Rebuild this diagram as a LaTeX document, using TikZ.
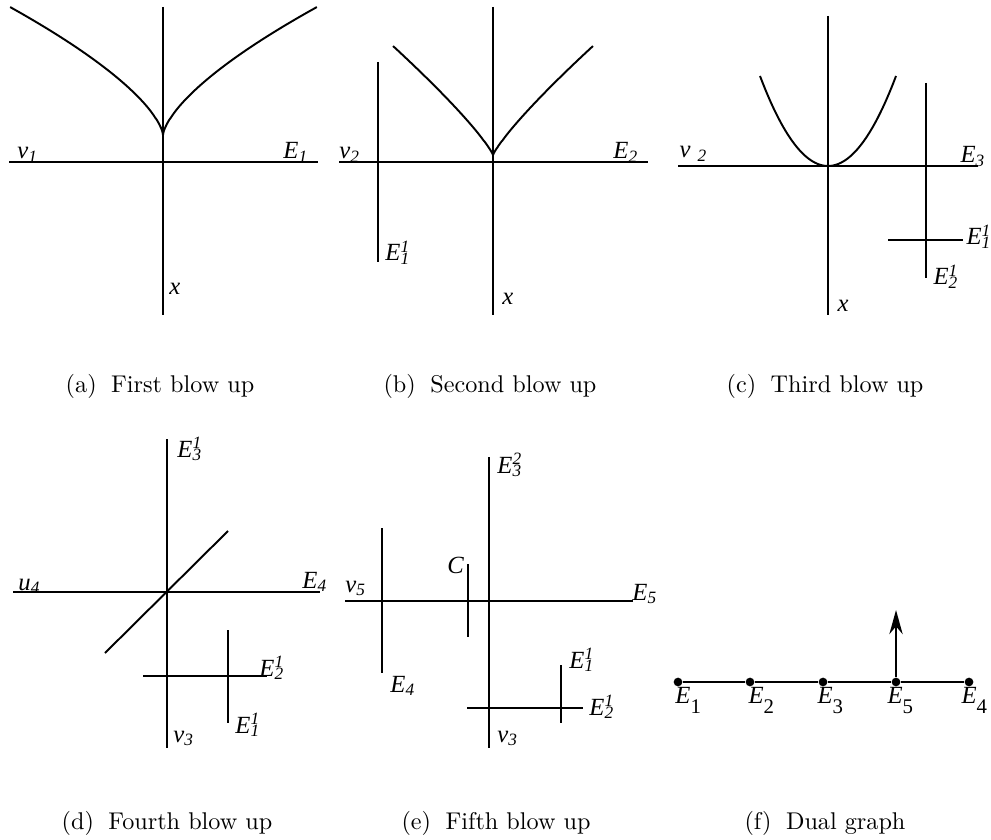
\documentclass[tikz,border=0pt]{standalone}
\usepackage{fontspec}
\usetikzlibrary{arrows.meta, positioning}
\newfontfamily\labfont{Liberation Serif}
\newcommand{\subsup}[3]{\textit{#1}\rlap{\textsuperscript{\itshape #3}}\textsubscript{\itshape #2}}
\newcommand{\subit}[2]{\textit{#1}\textsubscript{\itshape #2}}
\newcommand{\dualsub}[2]{\textit{#1}\raisebox{-0.42em}{\fontsize{8.6}{9}\selectfont #2}}

\begin{document}
\begin{tikzpicture}[x=0.4132pt, y=-0.4132pt,
    curve/.style={line width=0.8pt},
    lab/.style={font=\labfont\fontsize{10.2}{12}\selectfont, inner sep=0pt, anchor=base west},
    captext/.style={inner sep=0pt, anchor=base},
    vertex/.style={circle, fill, inner sep=0pt, minimum size=3.6pt}]
    \useasboundingbox (0,0) rectangle (991,839);

    % (a)
    \draw[curve] (9,162) -- (318,162);
    \draw[curve] (163,7) -- (163,315);
    \draw[curve] plot[domain=0.001:1, samples=60] ({163-153*\x^1.5}, {135-128*\x});
    \draw[curve] plot[domain=0.001:1, samples=60] ({163+154*\x^1.5}, {135-128*\x});
    \node[lab] (va) at (17,159) {\subit{v}{1}};
    \node[lab] (Ea) at (283,159) {\subit{E}{1}};
    \node[lab] (xa) at (169,295) {\textit{x}};
    \node[captext] (capa) at (160,393) {(a)\hspace{6pt}First blow up};

    % (b)
    \draw[curve] (339,162) -- (648,162);
    \draw[curve] (493,7) -- (493,315);
    \draw[curve] (378,62) -- (378,262);
    \draw[curve] plot[domain=0.001:1, samples=60] ({493-100*\x^1.18}, {155-109*\x});
    \draw[curve] plot[domain=0.001:1, samples=60] ({493+100*\x^1.18}, {155-109*\x});
    \node[lab] (vb) at (339,159) {\subit{v}{2}};
    \node[lab] (Eb) at (613,159) {\subit{E}{2}};
    \node[lab] (E1b) at (385,261) {\subsup{E}{1}{1}};
    \node[lab] (xb) at (502,305) {\textit{x}};
    \node[captext] (capb) at (490,393) {(b)\hspace{6pt}Second blow up};

    % (c)
    \draw[curve] (678,166) -- (978,166);
    \draw[curve] (828,16) -- (828,315);
    \draw[curve] (926,83) -- (926,278);
    \draw[curve] (888,240) -- (963,240);
    \draw[curve] plot[domain=-68:68, samples=60] ({828+\x}, {166-90*(\x/68)*(\x/68)});
    \node[lab] (vc) at (679,158) {\textit{v}\hspace{3pt}\textsubscript{\itshape 2}};
    \node[lab] (Ec) at (960,163) {\subit{E}{3}};
    \node[lab] (E1c) at (966,245) {\subsup{E}{1}{1}};
    \node[lab] (E2c) at (933,285) {\subsup{E}{2}{1}};
    \node[lab] (xc) at (837,312) {\textit{x}};
    \node[captext] (capc) at (825,393) {(c)\hspace{6pt}Third blow up};

    % (d)
    \draw[curve] (13,592) -- (320,592);
    \draw[curve] (167,439) -- (167,748);
    \draw[curve] (105,653) -- (228,531);
    \draw[curve] (143,676) -- (267,676);
    \draw[curve] (228,630) -- (228,723);
    \node[lab] (E3d) at (177,457) {\subsup{E}{3}{1}};
    \node[lab] (ud) at (18,590) {\subit{u}{4}};
    \node[lab] (Ed) at (302,588) {\subit{E}{4}};
    \node[lab] (E2d) at (259,676) {\subsup{E}{2}{1}};
    \node[lab] (E1d) at (235,733) {\subsup{E}{1}{1}};
    \node[lab] (vd) at (173,742) {\subit{v}{3}};
    \node[captext] (capd) at (167,829) {(d)\hspace{6pt}Fourth blow up};

    % (e)
    \draw[curve] (345,601) -- (633,601);
    \draw[curve] (489,457) -- (489,748);
    \draw[curve] (382,528) -- (382,673);
    \draw[curve] (468,564) -- (468,637);
    \draw[curve] (467,708) -- (583,708);
    \draw[curve] (561,665) -- (561,723);
    \node[lab] (E3e) at (497,473) {\subsup{E}{3}{2}};
    \node[lab] (Ce) at (447,573) {\textit{C}};
    \node[lab] (ve) at (345,592) {\subit{v}{5}};
    \node[lab] (Ee) at (632,600) {\subit{E}{5}};
    \node[lab] (E4e) at (390,692) {\subit{E}{4}};
    \node[lab] (E1e) at (569,668) {\subsup{E}{1}{1}};
    \node[lab] (E2e) at (589,715) {\subsup{E}{2}{1}};
    \node[lab] (v3e) at (497,742) {\subit{v}{3}};
    \node[captext] (cape) at (496,829) {(e)\hspace{6pt}Fifth blow up};

    % (f)
    \node[vertex] (e1) at (678,682) {};
    \node[vertex] (e2) at (750,682) {};
    \node[vertex] (e3) at (823,682) {};
    \node[vertex] (e5) at (896,682) {};
    \node[vertex] (e4) at (969,682) {};
    \coordinate (tip) at (896,610);
    \draw[curve] (e1) -- (e2) -- (e3) -- (e5) -- (e4);
    \draw[curve, -{Stealth[length=10pt, width=5.5pt]}] (e5) -- (tip);
    \node[lab] (l1) at (675,703) {\dualsub{E}{1}};
    \node[lab] (l2) at (748,703) {\dualsub{E}{2}};
    \node[lab] (l3) at (817,703) {\dualsub{E}{3}};
    \node[lab] (l5) at (887,703) {\dualsub{E}{5}};
    \node[lab] (l4) at (961,703) {\dualsub{E}{4}};
    \node[captext] (capf) at (825,829) {(f)\hspace{6pt}Dual graph};
\end{tikzpicture}
\end{document}
